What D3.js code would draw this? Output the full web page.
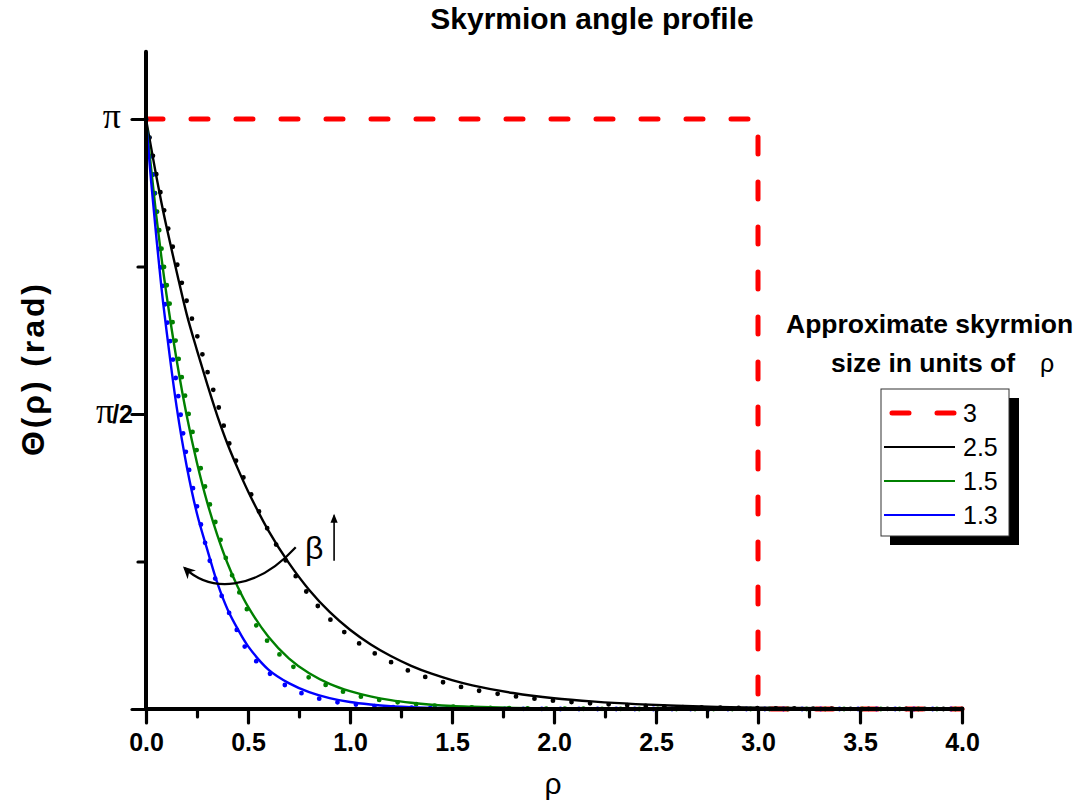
<!DOCTYPE html>
<html>
<head>
<meta charset="utf-8">
<script src="https://cdn.jsdelivr.net/npm/d3@7"></script>
<style>
  html, body { margin: 0; padding: 0; background: #ffffff; }
  svg { display: block; }
</style>
</head>
<body>
<div id="chart"></div>
<script>
// ---------- data ----------
const rho = [0, 0.025, 0.05, 0.075, 0.1, 0.15, 0.2, 0.25, 0.3, 0.35, 0.4, 0.45, 0.5, 0.6, 0.7, 0.8, 0.9, 1.0, 1.1, 1.2, 1.3, 1.4, 1.5, 1.6, 1.8, 2.0, 2.2, 2.4, 2.6, 2.8, 3.0, 3.5, 4.0];

const blackSolid = [3.14, 2.99, 2.84, 2.70, 2.57, 2.33, 2.10, 1.91, 1.73, 1.56, 1.41, 1.28, 1.16, 0.95, 0.778, 0.634, 0.517, 0.422, 0.345, 0.282, 0.230, 0.188, 0.154, 0.126, 0.085, 0.057, 0.039, 0.026, 0.017, 0.011, 0.007, 0.003, 0.001];
const blackDotted = [3.14, 3.00, 2.85, 2.73, 2.60, 2.38, 2.17, 1.99, 1.80, 1.63, 1.44, 1.30, 1.18, 0.95, 0.765, 0.605, 0.48, 0.385, 0.31, 0.25, 0.198, 0.16, 0.13, 0.104, 0.069, 0.044, 0.029, 0.018, 0.011, 0.007, 0.004, 0.001, 0];
const greenSolid = [3.14, 2.88, 2.63, 2.41, 2.21, 1.86, 1.56, 1.31, 1.10, 0.925, 0.775, 0.65, 0.545, 0.385, 0.27, 0.19, 0.134, 0.095, 0.067, 0.047, 0.033, 0.023, 0.016, 0.012, 0.006, 0.003, 0.0015, 0.001, 0, 0, 0, 0, 0];
const greenDotted = [3.14, 2.94, 2.69, 2.46, 2.27, 1.93, 1.62, 1.37, 1.14, 0.96, 0.775, 0.64, 0.52, 0.355, 0.245, 0.167, 0.12, 0.08, 0.056, 0.04, 0.028, 0.019, 0.013, 0.009, 0.004, 0.002, 0.001, 0, 0, 0, 0, 0, 0];
const blueSolid = [3.14, 2.81, 2.52, 2.25, 2.02, 1.61, 1.29, 1.04, 0.85, 0.67, 0.53, 0.425, 0.335, 0.21, 0.138, 0.09, 0.058, 0.037, 0.024, 0.015, 0.01, 0.006, 0.004, 0.003, 0.001, 0, 0, 0, 0, 0, 0, 0, 0];
const blueDotted = [3.14, 2.92, 2.62, 2.33, 2.10, 1.73, 1.34, 1.08, 0.84, 0.66, 0.53, 0.41, 0.305, 0.195, 0.115, 0.07, 0.043, 0.027, 0.017, 0.011, 0.007, 0.004, 0.003, 0.002, 0.001, 0, 0, 0, 0, 0, 0, 0, 0];

// step profile of size 3
const redRho = [0, 3, 3, 4];
const redTheta = [Math.PI, Math.PI, 0, 0];

const legendLabels = ["3", "2.5", "1.5", "1.3"];
const xMajorTicks = [0, 0.5, 1.0, 1.5, 2.0, 2.5, 3.0, 3.5, 4.0];
const xMinorTicks = [0.25, 0.75, 1.25, 1.75, 2.25, 2.75, 3.25, 3.75];
const yMajorTicks = [0, Math.PI / 2, Math.PI];
const yMinorTicks = [Math.PI / 4, 3 * Math.PI / 4];
const yTickLabels = ["", "π/2", "π"];

// annotation (data coordinates)
const annArrow = [[0.734, 0.861], [0.534, 0.623], [0.314, 0.623], [0.19, 0.75]];
const betaPos = [0.78, 0.80];
const betaArrow = [[0.922, 0.79], [0.922, 1.03]];

// ---------- drawing ----------
const W = 1081, H = 807;
const svg = d3.select("#chart").append("svg").attr("width", W).attr("height", H);

const x = d3.scaleLinear().domain([0, 4]).range([146, 962]);
const y = d3.scaleLinear().domain([0, Math.PI]).range([709, 119]);

const sans = "'Liberation Sans', Arial, sans-serif";
const serif = "'Liberation Serif', 'Times New Roman', serif";

// title
svg.append("text").attr("x", 592).attr("y", 29).attr("text-anchor", "middle")
  .style("font-family", sans).style("font-weight", "bold").style("font-size", "30px")
  .text("Skyrmion angle profile");

// series
const line = d3.line().x(d => x(d[0])).y(d => y(d[1])).curve(d3.curveCatmullRom.alpha(0.5));
const series = [
  { vals: blackDotted, color: "#000000", dotted: true },
  { vals: greenDotted, color: "#008000", dotted: true },
  { vals: blueDotted, color: "#0000ff", dotted: true },
  { vals: blackSolid, color: "#000000", dotted: false },
  { vals: greenSolid, color: "#008000", dotted: false },
  { vals: blueSolid, color: "#0000ff", dotted: false }
];

// red step line
svg.append("path")
  .attr("d", d3.line().x(d => x(d[0])).y(d => y(d[1]))(redRho.map((r, i) => [r, redTheta[i]])))
  .attr("fill", "none").attr("stroke", "#ff0000").attr("stroke-width", 5)
  .attr("stroke-linecap", "round").attr("stroke-dasharray", "17 28");

series.forEach(s => {
  const p = svg.append("path")
    .attr("d", line(rho.map((r, i) => [r, s.vals[i]])))
    .attr("fill", "none").attr("stroke", s.color);
  if (s.dotted) {
    p.attr("stroke-width", 4.8).attr("stroke-linecap", "round").attr("stroke-dasharray", "0 18.6");
  } else {
    p.attr("stroke-width", 2.4);
  }
});

// axes
const gx = svg.append("g").attr("transform", `translate(0,${y(0)})`);
gx.call(d3.axisBottom(x).tickValues(xMajorTicks).tickSize(14).tickPadding(10).tickFormat(d3.format(".1f")));
const gxm = svg.append("g").attr("transform", `translate(0,${y(0)})`);
gxm.call(d3.axisBottom(x).tickValues(xMinorTicks).tickSize(8).tickFormat(""));

const gy = svg.append("g").attr("transform", `translate(${x(0)},0)`);
gy.call(d3.axisLeft(y).tickValues(yMajorTicks).tickSize(14).tickFormat(""));
const gym = svg.append("g").attr("transform", `translate(${x(0)},0)`);
gym.call(d3.axisLeft(y).tickValues(yMinorTicks).tickSize(8).tickFormat(""));

svg.selectAll(".domain").remove();
svg.selectAll(".tick line").attr("stroke", "#000").attr("stroke-width", 3.2).attr("stroke-linecap", "round");
gx.selectAll(".tick text")
  .style("font-family", sans).style("font-weight", "bold").style("font-size", "25px").attr("fill", "#000");

// axis lines
svg.append("line").attr("x1", x(0)).attr("x2", x(4)).attr("y1", y(0)).attr("y2", y(0))
  .attr("stroke", "#000").attr("stroke-width", 4).attr("stroke-linecap", "round");
svg.append("line").attr("x1", x(0)).attr("x2", x(0)).attr("y1", y(0)).attr("y2", y(3.5))
  .attr("stroke", "#000").attr("stroke-width", 4).attr("stroke-linecap", "round");

// y tick labels (π in serif, /2 in bold sans)
svg.append("text").attr("x", x(0) - 25).attr("y", y(Math.PI) + 9).attr("text-anchor", "end")
  .style("font-family", serif).style("font-size", "36px").text(yTickLabels[2]);
const hLab = svg.append("text").attr("x", x(0) - 13).attr("y", y(Math.PI / 2) + 9).attr("text-anchor", "end");
hLab.append("tspan").style("font-family", serif).style("font-size", "36px").text(yTickLabels[1].charAt(0));
hLab.append("tspan").style("font-family", sans).style("font-weight", "bold").style("font-size", "25px")
  .attr("dx", -2).text(yTickLabels[1].slice(1));

// axis titles
svg.append("text").attr("x", 553).attr("y", 794).attr("text-anchor", "middle")
  .style("font-family", sans).style("font-size", "30px").text("ρ");
svg.append("text").attr("transform", "translate(44,370) rotate(-90)").attr("text-anchor", "middle")
  .attr("textLength", 172).attr("lengthAdjust", "spacing")
  .style("font-family", sans).style("font-weight", "bold").style("font-size", "32px")
  .text("Θ(ρ) (rad)");

// annotation
const defs = svg.append("defs");
defs.append("marker").attr("id", "ah").attr("viewBox", "0 0 10 10").attr("refX", 8).attr("refY", 5)
  .attr("markerWidth", 5.5).attr("markerHeight", 5.5).attr("orient", "auto")
  .append("path").attr("d", "M0,0 L10,5 L0,10 L3,5 Z").attr("fill", "#000");
defs.append("marker").attr("id", "ah2").attr("viewBox", "0 0 10 10").attr("refX", 8).attr("refY", 5)
  .attr("markerWidth", 11).attr("markerHeight", 9).attr("orient", "auto").attr("markerUnits", "userSpaceOnUse")
  .append("path").attr("d", "M0,1 L10,5 L0,9 Z").attr("fill", "#000");

const a = annArrow.map(p => [x(p[0]), y(p[1])]);
svg.append("path")
  .attr("d", `M${a[0][0]},${a[0][1]} C${a[1][0]},${a[1][1]} ${a[2][0]},${a[2][1]} ${a[3][0]},${a[3][1]}`)
  .attr("fill", "none").attr("stroke", "#000").attr("stroke-width", 2.2).attr("marker-end", "url(#ah)");

svg.append("text").attr("x", x(betaPos[0])).attr("y", y(betaPos[1]))
  .style("font-family", sans).style("font-size", "32px").text("β");
svg.append("line")
  .attr("x1", x(betaArrow[0][0])).attr("y1", y(betaArrow[0][1]))
  .attr("x2", x(betaArrow[1][0])).attr("y2", y(betaArrow[1][1]))
  .attr("stroke", "#000").attr("stroke-width", 1.6).attr("marker-end", "url(#ah2)");

// legend
const lt = svg.append("g").style("font-family", sans).style("font-weight", "bold").style("font-size", "26.5px");
lt.append("text").attr("x", 786).attr("y", 333).text("Approximate skyrmion");
const l2 = lt.append("text").attr("x", 831).attr("y", 372);
l2.append("tspan").text("size in units of");
l2.append("tspan").attr("x", 1040).style("font-weight", "normal").style("font-size", "25px").text("ρ");

const lg = svg.append("g");
lg.append("rect").attr("x", 890).attr("y", 398).attr("width", 129).attr("height", 147).attr("fill", "#000");
lg.append("rect").attr("x", 881).attr("y", 389).attr("width", 128).attr("height", 147)
  .attr("fill", "#fff").attr("stroke", "#333").attr("stroke-width", 1);

const legItems = [
  { color: "#ff0000", dash: true },
  { color: "#000000", dash: false },
  { color: "#008000", dash: false },
  { color: "#0000ff", dash: false }
];
const rowY = [413, 447, 481, 515];
legItems.forEach((it, i) => {
  const ln = lg.append("line").attr("x1", it.dash ? 892 : 884).attr("x2", it.dash ? 958 : 955)
    .attr("y1", rowY[i]).attr("y2", rowY[i]).attr("stroke", it.color);
  if (it.dash) ln.attr("stroke-width", 5).attr("stroke-linecap", "round").attr("stroke-dasharray", "17 28");
  else ln.attr("stroke-width", 2);
  lg.append("text").attr("x", 963).attr("y", rowY[i] + 9)
    .style("font-family", sans).style("font-size", "25px").text(legendLabels[i]);
});
</script>
</body>
</html>
